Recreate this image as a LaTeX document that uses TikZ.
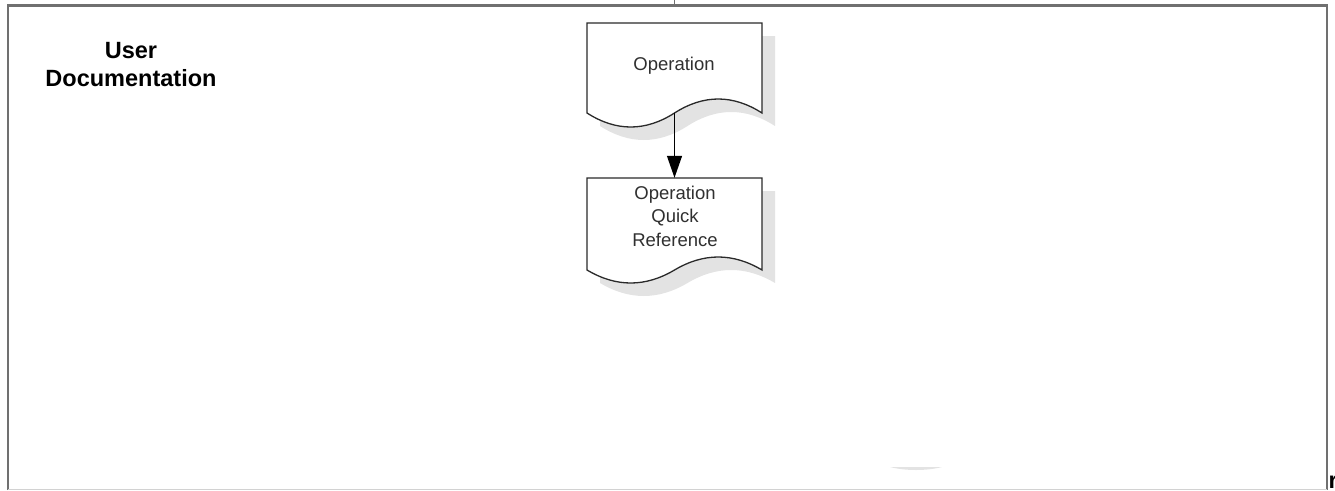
\documentclass[tikz,border=0pt]{standalone}
\usepackage{fontspec}
\setmainfont{Liberation Sans}
\usetikzlibrary{arrows.meta}
\definecolor{framegray}{HTML}{707070}
\definecolor{shadowgray}{HTML}{E3E3E3}
\definecolor{edgegray}{HTML}{2A2A2A}
\definecolor{textgray}{HTML}{303030}
\definecolor{bottomgray}{HTML}{D2D2D2}
\tikzset{
  docbox/.style={rectangle, draw=none, inner sep=0pt, minimum width=175pt},
  doctext/.style={anchor=base, text=textgray, inner sep=0pt, font=\fontsize{18.5}{23.5}\selectfont},
  doctextml/.style={anchor=north, text=textgray, inner sep=0pt, align=center, font=\fontsize{18.5}{23.5}\selectfont},
  titletext/.style={anchor=base, inner sep=0pt, align=center, font=\bfseries\fontsize{23.5}{29}\selectfont},
  docline/.style={draw=edgegray, line width=1.3pt, fill=white, line join=miter},
  shadowfill/.style={fill=shadowgray, draw=none},
  flow/.style={draw=black, line width=1.3pt, -{Triangle[length=22pt,width=15pt]}},
  framestyle/.style={draw=framegray, line width=2.6pt}
}
% document outline: #1 = L, #2 = T, #3 = R, #4 = B, #5 = amplitude
\newcommand{\docpath}[5]{%
  (#1,#4) -- (#1,#2) -- (#3,#2) -- (#3,#4)
  .. controls ({#3-(#3-#1)/6},{#4-4*#5/3}) and ({#3-(#3-#1)/3},{#4-4*#5/3}) .. ({(#1+#3)/2},#4)
  .. controls ({#1+(#3-#1)/3},{#4+4*#5/3}) and ({#1+(#3-#1)/6},{#4+4*#5/3}) .. (#1,#4) -- cycle}
\begin{document}
\begin{tikzpicture}[x=1pt,y=-1pt]
\useasboundingbox (0,0) rectangle (1335,490);
% frame
\draw[framestyle] (8,490) -- (8,5.5) -- (1327,5.5) -- (1327,490);
\draw[draw=bottomgray, line width=1.2pt] (8,489.4) -- (1327,489.4);
\draw[draw=framegray, line width=1.5pt] (674.5,0) -- (674.5,3.5);
% title
\node[titletext] (title) at (131,58) {User};
\node[titletext] (title2) at (131,86.5) {Documentation};
% shadows
\fill[shadowfill] \docpath{600}{36}{775}{126}{14};
\fill[shadowfill] \docpath{600}{191}{775}{283}{13};
% documents
\draw[docline] \docpath{587}{23}{762}{113}{14};
\draw[docline] \docpath{587}{178}{762}{270}{13};
\node[docbox, minimum height=90pt] (doc1) at (674.5,68) {};
\node[docbox, minimum height=92pt] (doc2) at (674.5,224) {};
\node[doctext] (doc1txt) at (674,70) {Operation};
\node[doctextml] (doc2txt) at (675,185.5) {Operation\\Quick\\Reference};
% connector
\draw[flow] (doc1.south) -- (doc2.north);
% partial shadow at bottom
\fill[shadowfill] (890,467) .. controls (905,471) and (927,471) .. (942,467) -- cycle;
% clipped letter at right edge
\node[anchor=base west, inner sep=0pt, font=\bfseries\fontsize{23.5}{29}\selectfont] (cut) at (1328.5,488) {r};
\end{tikzpicture}
\end{document}
